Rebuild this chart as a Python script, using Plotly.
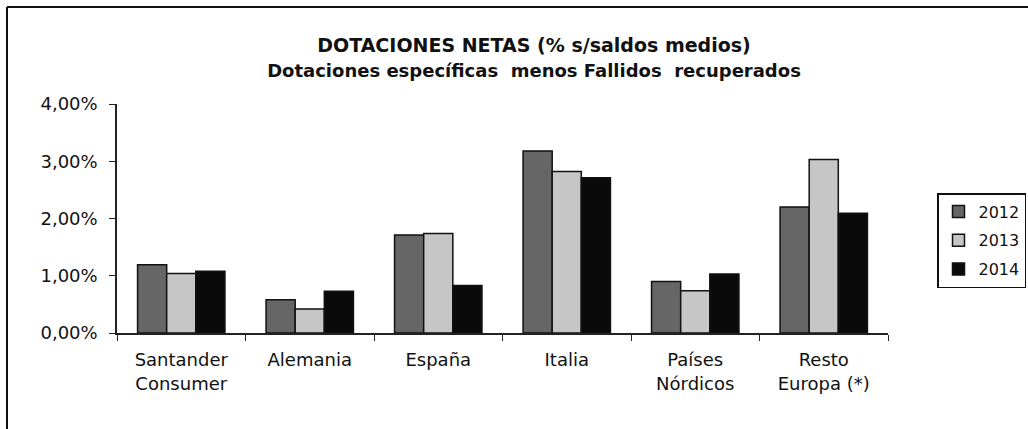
import plotly.graph_objects as go

# Categories and net provisioning ratios (% over average balances)
categories = ["Santander<br>Consumer", "Alemania", "España", "Italia",
              "Países<br>Nórdicos", "Resto<br>Europa (*)"]
years = ["2012", "2013", "2014"]
values_2012 = [1.19, 0.58, 1.71, 3.18, 0.90, 2.20]
values_2013 = [1.04, 0.42, 1.74, 2.82, 0.74, 3.03]
values_2014 = [1.08, 0.73, 0.83, 2.71, 1.03, 2.09]
y_ticks = [0, 1, 2, 3, 4]
y_tick_labels = ["0,00%", "1,00%", "2,00%", "3,00%", "4,00%"]

series = [values_2012, values_2013, values_2014]
fills = ["#666666", "#c6c6c6", "#0a0a0a"]

FONT = "DejaVu Sans"
W, H = 1028, 429
L, R, T, B = 117, 140, 104, 96
PW, PH = W - L - R, H - T - B


def px_x(x):
    return (x - L) / PW


def px_y(y):
    return (H - B - y) / PH


fig = go.Figure()
for name, vals, col in zip(years, series, fills):
    fig.add_trace(go.Bar(
        name=name, x=categories, y=vals, legendgroup=name,
        marker=dict(color=col, line=dict(color="#111111", width=1.5)),
    ))

fig.update_layout(
    width=W, height=H,
    margin=dict(l=L, r=R, t=T, b=B, pad=0, autoexpand=False),
    paper_bgcolor="white", plot_bgcolor="white",
    barmode="group", bargap=0.32, bargroupgap=0,
    font=dict(family=FONT, color="#111111"),
    title=dict(
        text=("DOTACIONES NETAS (% s/saldos medios)<br>"
              "<span style='font-size:18px'>Dotaciones específicas  menos Fallidos  recuperados</span>"),
        font=dict(family=FONT, size=19, color="#111111", weight="bold"),
        xref="container", x=534 / W, xanchor="center",
        yref="container", y=1 - 52 / H, yanchor="top",
    ),
    xaxis=dict(
        showline=True, linecolor="#222222", linewidth=1.5,
        ticks="outside", ticklen=6, tickcolor="#222222", tickwidth=1.2,
        tickson="boundaries",
        tickfont=dict(family=FONT, size=18, color="#111111"),
        ticklabelstandoff=10, automargin=False,
        showgrid=False, zeroline=False,
    ),
    yaxis=dict(
        range=[0, 4], tickvals=y_ticks, ticktext=y_tick_labels,
        showline=True, linecolor="#222222", linewidth=1.5,
        ticks="outside", ticklen=6, tickcolor="#222222", tickwidth=1.2,
        tickfont=dict(family=FONT, size=18, color="#111111"),
        ticklabelstandoff=8, automargin=False,
        showgrid=False, zeroline=False,
    ),
    legend=dict(
        xref="container", x=937 / W, xanchor="left",
        yref="container", y=1 - 193 / H, yanchor="top",
        bordercolor="#111111", borderwidth=1.5,
        font=dict(family=FONT, size=16, color="#111111"),
        itemwidth=30, traceorder="grouped", tracegroupgap=5,
    ),
    showlegend=True,
)

# Chart frame: top and left edges of the bordered box
fig.add_shape(type="line", xref="paper", yref="paper",
              x0=px_x(7), x1=px_x(W + 20), y0=px_y(7), y1=px_y(7),
              line=dict(color="#111111", width=2.2))
fig.add_shape(type="line", xref="paper", yref="paper",
              x0=px_x(7), x1=px_x(7), y0=px_y(7), y1=px_y(H + 20),
              line=dict(color="#111111", width=2))

fig.write_html("out.html")
